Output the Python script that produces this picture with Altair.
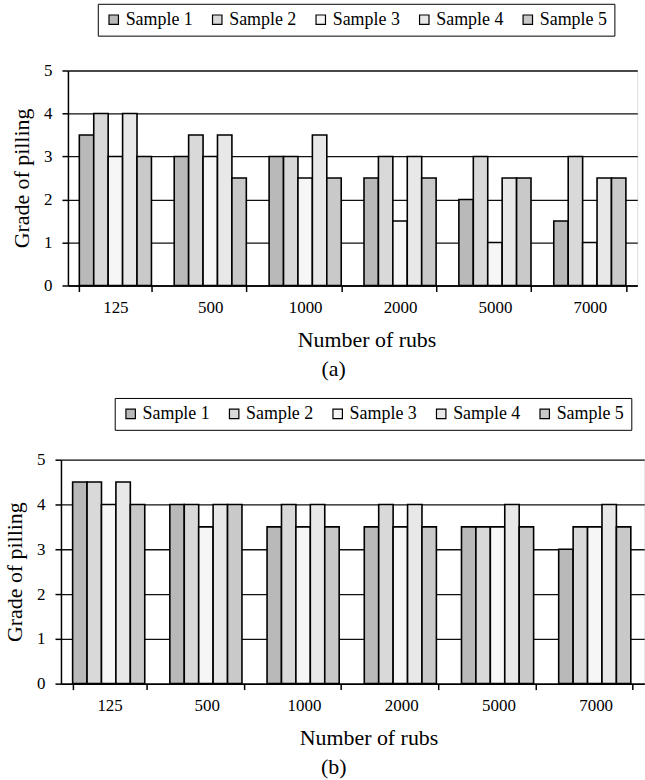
import altair as alt
import pandas as pd

rubs = ["125", "500", "1000", "2000", "5000", "7000"]
samples = ["Sample 1", "Sample 2", "Sample 3", "Sample 4", "Sample 5"]
colors = ["#b9b9b9", "#d9d9d9", "#f6f6f6", "#e8e8e8", "#c9c9c9"]

# panel (a)
a_s1 = [3.5, 3.0, 3.0, 2.5, 2.0, 1.5]
a_s2 = [4.0, 3.5, 3.0, 3.0, 3.0, 3.0]
a_s3 = [3.0, 3.0, 2.5, 1.5, 1.0, 1.0]
a_s4 = [4.0, 3.5, 3.5, 3.0, 2.5, 2.5]
a_s5 = [3.0, 2.5, 2.5, 2.5, 2.5, 2.5]

# panel (b)
b_s1 = [4.5, 4.0, 3.5, 3.5, 3.5, 3.0]
b_s2 = [4.5, 4.0, 4.0, 4.0, 3.5, 3.5]
b_s3 = [4.0, 3.5, 3.5, 3.5, 3.5, 3.5]
b_s4 = [4.5, 4.0, 4.0, 4.0, 4.0, 4.0]
b_s5 = [4.0, 4.0, 3.5, 3.5, 3.5, 3.5]

FONT = "Liberation Serif"


def to_df(series):
    rows = []
    for s, vals in zip(samples, series):
        for r, v in zip(rubs, vals):
            rows.append({"rubs": r, "sample": s, "grade": v})
    return pd.DataFrame(rows)


def panel(df, w, h, lx, ly, label, title_x, label_dx):
    return alt.Chart(df).mark_bar(stroke="black", strokeWidth=1.6).encode(
        x=alt.X(
            "rubs:N", sort=rubs,
            scale=alt.Scale(paddingInner=0.24, paddingOuter=0.12),
            axis=alt.Axis(
                title="Number of rubs", labelAngle=0, tickBand="extent",
                grid=False, tickSize=6, tickColor="black", domainColor="black",
                domainWidth=1.5, tickWidth=1.5,
                labelFont=FONT, labelFontSize=17, labelColor="black", labelPadding=8,
                titleFont=FONT, titleFontSize=22, titleFontWeight="normal",
                titleColor="black", titlePadding=14, titleX=title_x,
            ),
        ),
        xOffset=alt.XOffset("sample:N", sort=samples,
                            scale=alt.Scale(paddingInner=0, paddingOuter=0)),
        y=alt.Y(
            "grade:Q",
            scale=alt.Scale(domain=[0, 5]),
            axis=alt.Axis(
                values=[0, 1, 2, 3, 4, 5], title="Grade of pilling",
                grid=True, gridColor="#111111", gridWidth=1.3,
                tickSize=6, tickColor="black", tickWidth=1.5,
                domainColor="black", domainWidth=1.5,
                labelFont=FONT, labelFontSize=17, labelColor="black", labelPadding=10,
                titleFont=FONT, titleFontSize=22, titleFontWeight="normal",
                titleColor="black", titlePadding=10,
            ),
        ),
        color=alt.Color(
            "sample:N", sort=samples,
            scale=alt.Scale(domain=samples, range=colors),
            legend=alt.Legend(
                title=None, orient="none", legendX=lx, legendY=ly,
                direction="horizontal", strokeColor="black", padding=7,
                symbolType="square", symbolSize=90, symbolStrokeColor="black",
                symbolStrokeWidth=1.2, labelFont=FONT, labelFontSize=18,
                labelColor="black", labelOffset=3, columnPadding=15,
            ),
        ),
    ).properties(
        width=w, height=h,
        title=alt.TitleParams(label, orient="bottom", font=FONT, fontSize=22,
                              fontWeight="normal", color="black", frame="group",
                              dx=label_dx, offset=9),
    )


pa = panel(to_df([a_s1, a_s2, a_s3, a_s4, a_s5]), 572, 216, 30, -67, "(a)", 300, -19)
pb = panel(to_df([b_s1, b_s2, b_s3, b_s4, b_s5]), 586, 225, 54, -62, "(b)", 309, -19)

chart = alt.vconcat(pa, pb, spacing=16, center=True).resolve_scale(
    color="independent"
).resolve_legend(color="independent").properties(
    padding={"left": 3, "top": 1, "right": 0, "bottom": 0}
).configure_view(stroke=None).configure(background="white")

chart.save("out.html", embed_options={"renderer": "svg", "actions": False})
